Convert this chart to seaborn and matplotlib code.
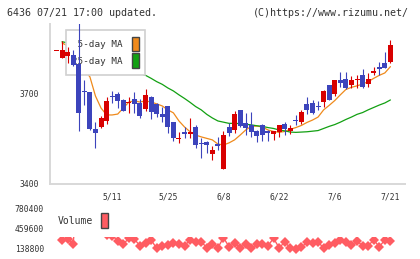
import numpy as np
import seaborn as sns
import matplotlib
matplotlib.use("Agg")
import matplotlib.pyplot as plt
from matplotlib.patches import Patch, Rectangle

# 4/24 - 7/21 daily prices
opens = [3842, 3821, 3828, 3830, 3799, 3707, 3706, 3582, 3591, 3611,
         3692, 3700, 3680, 3670, 3683, 3669, 3649, 3691, 3667, 3632,
         3660, 3606, 3551, 3574, 3566, 3590, 3534, 3541, 3500, 3534,
         3450, 3590, 3580, 3647, 3602, 3597, 3577, 3597, 3577, 3567,
         3574, 3600, 3577, 3611, 3608, 3667, 3669, 3659, 3674, 3730,
         3700, 3747, 3750, 3730, 3746, 3763, 3733, 3769, 3791, 3802,
         3806]
highs = [3843, 3875, 3855, 3847, 4000, 3747, 3707, 3608, 3628, 3691,
         3710, 3708, 3683, 3691, 3708, 3683, 3716, 3692, 3669, 3658,
         3661, 3607, 3574, 3591, 3621, 3597, 3552, 3543, 3528, 3556,
         3577, 3604, 3643, 3648, 3638, 3639, 3580, 3600, 3580, 3578,
         3598, 3606, 3597, 3630, 3647, 3691, 3680, 3677, 3713, 3731,
         3747, 3774, 3774, 3761, 3763, 3783, 3769, 3791, 3808, 3841,
         3880]
lows = [3842, 3821, 3803, 3793, 3577, 3663, 3580, 3521, 3586, 3599,
        3669, 3654, 3643, 3636, 3636, 3619, 3643, 3616, 3624, 3606,
        3569, 3543, 3536, 3552, 3552, 3521, 3486, 3504, 3480, 3513,
        3450, 3560, 3569, 3591, 3563, 3558, 3541, 3544, 3544, 3547,
        3558, 3563, 3567, 3597, 3600, 3632, 3633, 3647, 3658, 3680,
        3694, 3724, 3717, 3719, 3719, 3719, 3724, 3763, 3763, 3786,
        3802]
closes = [3843, 3846, 3840, 3797, 3636, 3705, 3582, 3571, 3619, 3677,
          3690, 3678, 3643, 3672, 3667, 3628, 3697, 3639, 3632, 3622,
          3591, 3552, 3553, 3566, 3574, 3530, 3532, 3530, 3513, 3528,
          3563, 3571, 3633, 3594, 3588, 3574, 3561, 3563, 3571, 3577,
          3597, 3583, 3586, 3609, 3639, 3647, 3638, 3657, 3710, 3680,
          3747, 3738, 3719, 3747, 3748, 3722, 3750, 3777, 3783, 3786,
          3863]
ma5 = [np.nan, 3870, 3860, 3840, 3807, 3780, 3757, 3693, 3653, 3630,
       3630, 3633, 3653, 3673, 3677, 3673, 3677, 3673, 3667, 3660,
       3647, 3637, 3610, 3590, 3574, 3563, 3557, 3552, 3547, 3533,
       3530, 3537, 3547, 3563, 3580, 3592, 3593, 3590, 3580, 3575,
       3572, 3575, 3582, 3588, 3595, 3605, 3613, 3623, 3647, 3662,
       3678, 3697, 3715, 3722, 3727, 3733, 3741, 3752, 3762, 3770,
       3791]
ma25 = [np.nan, 3874, 3870, 3863, 3857, 3847, 3837, 3830, 3822, 3813,
        3807, 3798, 3790, 3783, 3775, 3768, 3762, 3752, 3741, 3732,
        3720, 3710, 3697, 3685, 3672, 3658, 3647, 3632, 3620, 3610,
        3606, 3602, 3602, 3601, 3599, 3597, 3594, 3592, 3588, 3585,
        3580, 3577, 3573, 3572, 3573, 3574, 3576, 3578, 3585, 3592,
        3598, 3606, 3615, 3623, 3632, 3638, 3647, 3655, 3663, 3670,
        3680]
volumes = [np.nan, 291000, 307000, 214000, 1500000, 1100000, 900000, 700000, 560000, 358000,
           355000, 272000, 219000, 310000, 294000, 192000, 230000, 283000, 150000, 192000,
           203000, 230000, 214000, 192000, 283000, 256000, 256000, 160000, 219000, 160000,
           320000, 176000, 230000, 160000, 219000, 150000, 214000, 214000, 192000, 310000,
           160000, 246000, 160000, 139000, 166000, 246000, 230000, 246000, 160000, 203000,
           230000, 283000, 256000, 203000, 267000, 192000, 192000, 283000, 176000, 283000,
           267000]

date_pos = [10, 20, 30, 40, 50, 60]
date_labels = ["5/11", "5/25", "6/8", "6/22", "7/6", "7/21"]
price_ticks = [3400, 3700]
vol_ticks = [138800, 459600, 780400]
vol_labels = ["138800", "459600", "780400"]

RED = "#d80000"
BLUE = "#3c44bc"
ORANGE = "#ef8a1c"
GREEN = "#12a012"
VOL = "#ff5c62"
GRID = "#d8d8d8"
TXT = "#333333"

sns.set_style("white")
plt.rcParams['font.family'] = ['DejaVu Sans Mono']

fig = plt.figure(figsize=(4.2, 2.59), dpi=100)
ax = fig.add_axes([50 / 420, 1 - 184 / 259, 355 / 420, 160 / 259])
vax = fig.add_axes([50 / 420, 1 - 255 / 259, 355 / 420, 46 / 259])

idx = np.arange(len(closes))
o = np.array(opens)
c = np.array(closes)
cols = np.where(c >= o, RED, BLUE)

# 移动平均线
sns.lineplot(x=idx, y=ma5, ax=ax, color=ORANGE, lw=0.9, zorder=2)
sns.lineplot(x=idx, y=ma25, ax=ax, color=GREEN, lw=0.9, zorder=2)

# 蜡烛图
ax.vlines(idx, lows, highs, colors=cols, lw=0.8, zorder=3)
ax.bar(idx, np.maximum(np.abs(c - o), 3.3), bottom=np.minimum(o, c),
       width=0.9, color=cols, linewidth=0, zorder=3)

xlim = (-1.17, 62.62)
ax.set_xlim(xlim)
ax.set_ylim(3400, 3933)
ax.set_xticks(date_pos)
ax.set_xticklabels(date_labels)
ax.set_xticks(np.linspace(xlim[0], xlim[1], 12), minor=True)
ax.set_yticks(price_ticks)
ax.set_yticklabels([str(v) for v in price_ticks])
ax.tick_params(axis='x', which='major', length=0, pad=6, labelsize=5.8, labelcolor=TXT)
ax.tick_params(axis='x', which='minor', direction='inout', length=6.5, width=0.8, color=GRID)
ax.tick_params(axis='y', direction='inout', length=5.8, width=0.8, color=GRID,
               labelsize=5.8, labelcolor=TXT, pad=5)
for s in ['top', 'right']:
    ax.spines[s].set_visible(False)
for s in ['left', 'bottom']:
    ax.spines[s].set_color(GRID)
    ax.spines[s].set_linewidth(1.4)

leg = ax.legend(handles=[Patch(facecolor=ORANGE, edgecolor='#444444', lw=1),
                         Patch(facecolor=GREEN, edgecolor='#444444', lw=1)],
                labels=[" 5-day MA", "25-day MA"], loc='upper left',
                bbox_to_anchor=(0.044, 0.9625), borderaxespad=0, markerfirst=False,
                fontsize=6.7, handlelength=0.75, handleheight=2.1, labelspacing=0.2,
                handletextpad=0.95, borderpad=0.7, fancybox=False, framealpha=1,
                edgecolor='#d0d0d0', facecolor='white')
leg.get_frame().set_linewidth(1.2)
for t in leg.get_texts():
    t.set_color(TXT)
leg.set_zorder(2.5)

# 成交量
sns.lineplot(x=idx, y=volumes, ax=vax, color=VOL, lw=1, marker='D',
             markersize=4.8, markeredgewidth=0)
vax.lines[-1].set_clip_path(Rectangle((0, 0), 1, 0.402, transform=vax.transAxes))
vax.set_xlim(xlim)
vax.set_ylim(42560, 780400)
vax.set_xticks([])
vax.set_yticks(vol_ticks)
vax.set_yticklabels(vol_labels)
vax.tick_params(axis='y', length=0, pad=4.3, labelsize=5.8, labelcolor=TXT)
sns.despine(ax=vax, left=True, bottom=True)
vax.set_facecolor('none')
vleg = vax.legend(handles=[Patch(facecolor=VOL, edgecolor='#444444', lw=1)],
                  labels=["Volume"], loc='upper left', bbox_to_anchor=(0.022, 0.913),
                  borderaxespad=0, markerfirst=False, frameon=False, fontsize=7,
                  handlelength=0.7, handleheight=2.0, handletextpad=0.8, borderpad=0)
for t in vleg.get_texts():
    t.set_color(TXT)

fig.text(7 / 420, 1 - 13 / 259, "6436 07/21 17:00 updated.", fontsize=7.2,
         color=TXT, va='center', ha='left')
fig.text(409 / 420, 1 - 13 / 259, "(C)https://www.rizumu.net/", fontsize=7.2,
         color=TXT, va='center', ha='right')

fig.savefig("out.png", dpi=100)
